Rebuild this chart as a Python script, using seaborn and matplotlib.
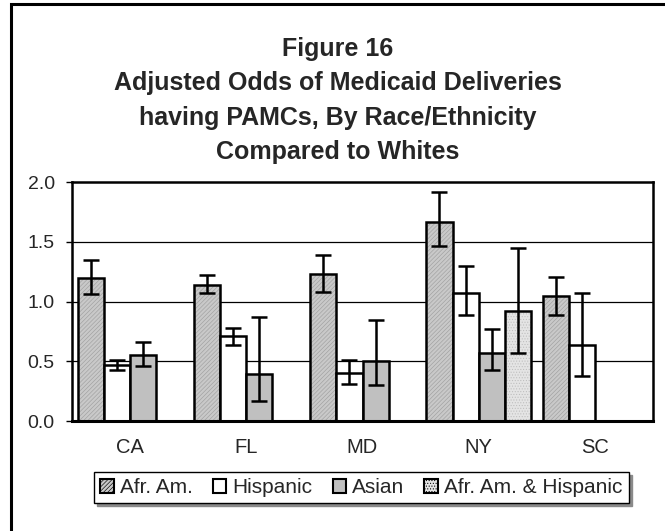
import matplotlib
matplotlib.use("Agg")
import matplotlib.pyplot as plt
import matplotlib.patches as mpatches
import seaborn as sns
import pandas as pd
import numpy as np

states = ["CA", "FL", "MD", "NY", "SC"]
groups = ["Afr. Am.", "Hispanic", "Asian", "Afr. Am. & Hispanic"]

afr_am = [1.20, 1.14, 1.23, 1.67, 1.05]
afr_am_lo = [1.06, 1.07, 1.08, 1.47, 0.89]
afr_am_hi = [1.35, 1.22, 1.39, 1.92, 1.21]

hispanic = [0.47, 0.71, 0.40, 1.07, 0.64]
hispanic_lo = [0.43, 0.64, 0.31, 0.89, 0.38]
hispanic_hi = [0.51, 0.78, 0.51, 1.30, 1.07]

asian = [0.55, 0.39, 0.50, 0.57, np.nan]
asian_lo = [0.46, 0.17, 0.30, 0.43, np.nan]
asian_hi = [0.66, 0.87, 0.85, 0.77, np.nan]

afr_hisp = [np.nan, np.nan, np.nan, 0.92, np.nan]
afr_hisp_lo = [np.nan, np.nan, np.nan, 0.57, np.nan]
afr_hisp_hi = [np.nan, np.nan, np.nan, 1.45, np.nan]

yticks = [0.0, 0.5, 1.0, 1.5, 2.0]
title_lines = ["Figure 16", "Adjusted Odds of Medicaid Deliveries",
               "having PAMCs, By Race/Ethnicity", "Compared to Whites"]

series = {
    groups[0]: (afr_am, afr_am_lo, afr_am_hi),
    groups[1]: (hispanic, hispanic_lo, hispanic_hi),
    groups[2]: (asian, asian_lo, asian_hi),
    groups[3]: (afr_hisp, afr_hisp_lo, afr_hisp_hi),
}

rows = []
for g, (v, lo, hi) in series.items():
    for s, val, l, h in zip(states, v, lo, hi):
        rows.append({"State": s, "Group": g, "Odds": val, "lo": l, "hi": h})
df = pd.DataFrame(rows)
plot_df = df.dropna(subset=["Odds"])

sns.set_style("white")
plt.rcParams["font.family"] = ["Liberation Sans", "DejaVu Sans"]
plt.rcParams["hatch.linewidth"] = 0.45

styles = {
    groups[0]: dict(fc="#c9c9c9", hatch="////////", hc="#a0a0a0"),
    groups[1]: dict(fc="#ffffff", hatch=None, hc="black"),
    groups[2]: dict(fc="#c0c0c0", hatch=None, hc="black"),
    groups[3]: dict(fc="#e4e4e4", hatch="......", hc="#bdbdbd"),
}

W, H = 665, 531
fig = plt.figure(figsize=(W / 100, H / 100), dpi=100)
ax = fig.add_axes([72 / W, 1 - 421 / H, (653 - 72) / W, (421 - 182.3) / H])

sns.barplot(data=plot_df, x="State", y="Odds", hue="Group", order=states,
            hue_order=groups, width=0.9, errorbar=None, ax=ax,
            edgecolor="black", linewidth=1.8, legend=False)

for cont, g in zip(ax.containers, groups):
    st = styles[g]
    for p in cont.patches:
        p.set_facecolor(st["fc"])
        p.set_edgecolor("black")
        p.set_linewidth(1.8)
        if st["hatch"]:
            p.set_hatch(st["hatch"])
            p._hatch_color = matplotlib.colors.to_rgba(st["hc"])
        cx = p.get_x() + p.get_width() / 2
        si = int(round(cx))
        r = df[(df.Group == g) & (df.State == states[si])].iloc[0]
        ax.errorbar(cx, r.Odds, yerr=[[r.Odds - r.lo], [r.hi - r.Odds]],
                    fmt="none", ecolor="black", elinewidth=1.8, capsize=6,
                    capthick=1.8, zorder=5)

ax.set_ylim(0, 2.0)
ax.set_yticks(yticks)
ax.set_yticklabels([f"{t:.1f}" for t in yticks], fontsize=14)
ax.set_xlim(-0.5, 4.5)
ax.set_xticks(np.arange(len(states)))
ax.set_xticklabels(states, fontsize=14.5)
ax.set_xticks(np.arange(-0.5, 5.0, 1.0), minor=True)
ax.tick_params(axis="x", which="major", length=0, pad=12)
ax.tick_params(axis="x", which="minor", length=4, width=1, direction="out", color="black")
ax.tick_params(axis="y", length=4.5, width=1, direction="out", color="black", pad=8, left=True)
ax.set_xlabel("")
ax.set_ylabel("")
for y in [0.5, 1.0, 1.5]:
    ax.axhline(y, color="black", lw=0.9, zorder=0)
for sp in ax.spines.values():
    sp.set_visible(True)
    sp.set_color("black")
    sp.set_linewidth(1.8)
ax.spines["bottom"].set_linewidth(2.2)

baselines = [55.7, 90.0, 124.5, 158.5]
for line, b in zip(title_lines, baselines):
    fig.text(338 / W, 1 - b / H, line, ha="center", va="baseline",
             fontsize=18, fontweight="bold")

handles = []
for g in groups:
    st = styles[g]
    h = mpatches.Patch(facecolor=st["fc"], edgecolor="black", linewidth=1.5,
                       hatch=st["hatch"], label=g)
    handles.append(h)
leg = fig.legend(handles=handles, loc="center", ncol=4,
                 bbox_to_anchor=(361.5 / W, 1 - 487.5 / H), fontsize=15,
                 frameon=True, fancybox=False, edgecolor="black",
                 handlelength=0.65, handleheight=0.65, handletextpad=0.3,
                 columnspacing=0.95, borderpad=0.3, borderaxespad=0,
                 shadow={"color": "#8a8a8a", "alpha": 1.0})
leg.get_frame().set_linewidth(1.0)

border = mpatches.Rectangle((10.5 / W, -0.1), 1.2, 1 - 4.3 / H + 0.1,
                            transform=fig.transFigure, fill=False,
                            edgecolor="black", linewidth=2.2, clip_on=False)
fig.add_artist(border)

fig.savefig("out.png", dpi=100)
